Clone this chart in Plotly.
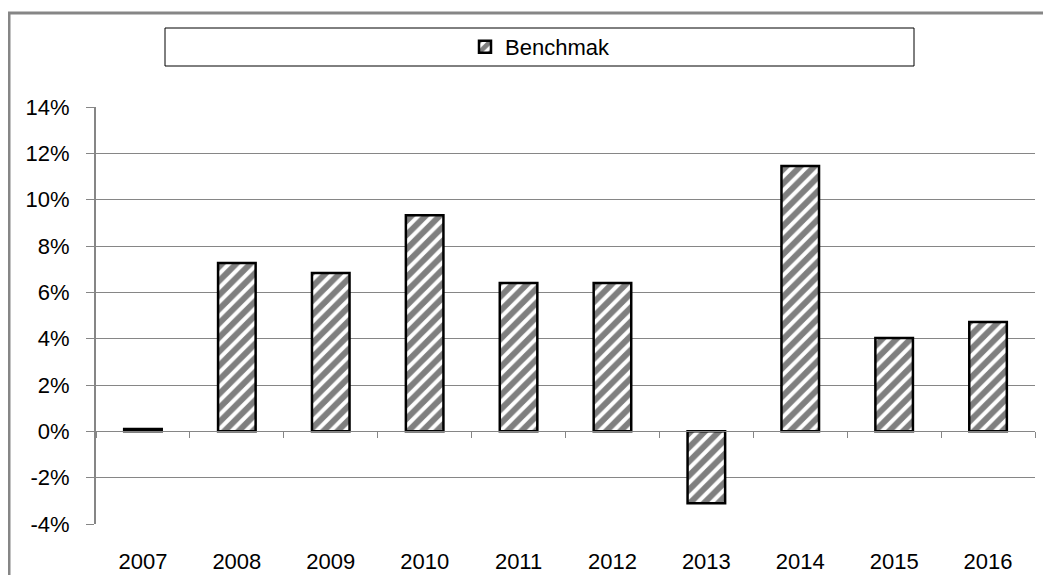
import plotly.graph_objects as go

years = ["2007", "2008", "2009", "2010", "2011", "2012", "2013", "2014", "2015", "2016"]
benchmark = [0.001, 0.0727, 0.0683, 0.0933, 0.064, 0.064, -0.031, 0.1145, 0.0403, 0.0472]
series_name = "Benchmak"
y_ticks = [-0.04, -0.02, 0.0, 0.02, 0.04, 0.06, 0.08, 0.10, 0.12, 0.14]
y_tick_text = ["-4%", "-2%", "0%", "2%", "4%", "6%", "8%", "10%", "12%", "14%"]

# page body has an 8px margin: work in screen pixels, shift by 8
OFF = 8
W, H = 1051 - 2 * OFF, 583 - 2 * OFF
PL, PR, PT, PB = 96, 1035, 107, 524  # plot area in screen pixels
L, R, T, B = PL - OFF, (W + OFF) - PR, PT - OFF, (H + OFF) - PB
pw, ph = PR - PL, PB - PT

def px_x(x):
    return (x - PL) / pw

def px_y(y):
    return (PB - y) / ph

FONT = "Liberation Sans, Arial, sans-serif"
FS = 22
GRID = "#868686"

fig = go.Figure()
fig.add_trace(go.Bar(
    x=years, y=benchmark, name=series_name,
    marker=dict(color="white",
                line=dict(color="black", width=2.5),
                pattern=dict(shape="/", fgcolor="black", bgcolor="white",
                             size=10, solidity=0.6, fillmode="overlay")),
    showlegend=True,
))
fig.add_trace(go.Scatter(x=years, y=benchmark, xaxis="x2", mode="none",
                         showlegend=False, hoverinfo="skip"))

# legend box and outer frame
fig.add_shape(type="rect", xref="paper", yref="paper",
              x0=px_x(165), x1=px_x(914), y0=px_y(66), y1=px_y(28),
              line=dict(color="black", width=1), fillcolor="rgba(0,0,0,0)")
fig.add_shape(type="rect", xref="paper", yref="paper",
              x0=px_x(9), x1=px_x(1080), y0=px_y(620), y1=px_y(13),
              line=dict(color="#868686", width=3), fillcolor="rgba(0,0,0,0)")

fig.update_layout(
    width=W, height=H,
    margin=dict(l=L, r=R, t=T, b=B, autoexpand=False),
    paper_bgcolor="white", plot_bgcolor="white",
    font=dict(family=FONT, size=FS, color="black"),
    bargap=0.6,
    legend=dict(x=px_x(540), y=px_y(47), xanchor="center", yanchor="middle",
                orientation="h", bgcolor="rgba(0,0,0,0)", borderwidth=0,
                font=dict(family=FONT, size=FS)),
    xaxis=dict(type="category", categoryorder="array", categoryarray=years,
               anchor="free", position=4 / 18, automargin=False,
               showline=True, linecolor=GRID, linewidth=1,
               ticks="outside", tickson="boundaries", ticklen=6, tickcolor=GRID,
               showticklabels=False, showgrid=False, zeroline=False),
    xaxis2=dict(type="category", categoryorder="array", categoryarray=years,
                overlaying="x", matches="x", anchor="y", side="bottom",
                automargin=False,
                showline=False, ticks="", showgrid=False, zeroline=False,
                ticklabelstandoff=22, tickfont=dict(family=FONT, size=FS)),
    yaxis=dict(range=[-0.04, 0.14], tickvals=y_ticks, ticktext=y_tick_text,
               automargin=False,
               showgrid=True, gridcolor=GRID, gridwidth=1,
               showline=True, linecolor=GRID, linewidth=2,
               ticks="outside", ticklen=8, tickcolor=GRID,
               ticklabelstandoff=12, zeroline=False,
               tickfont=dict(family=FONT, size=FS)),
)

fig.write_html("out.html")
